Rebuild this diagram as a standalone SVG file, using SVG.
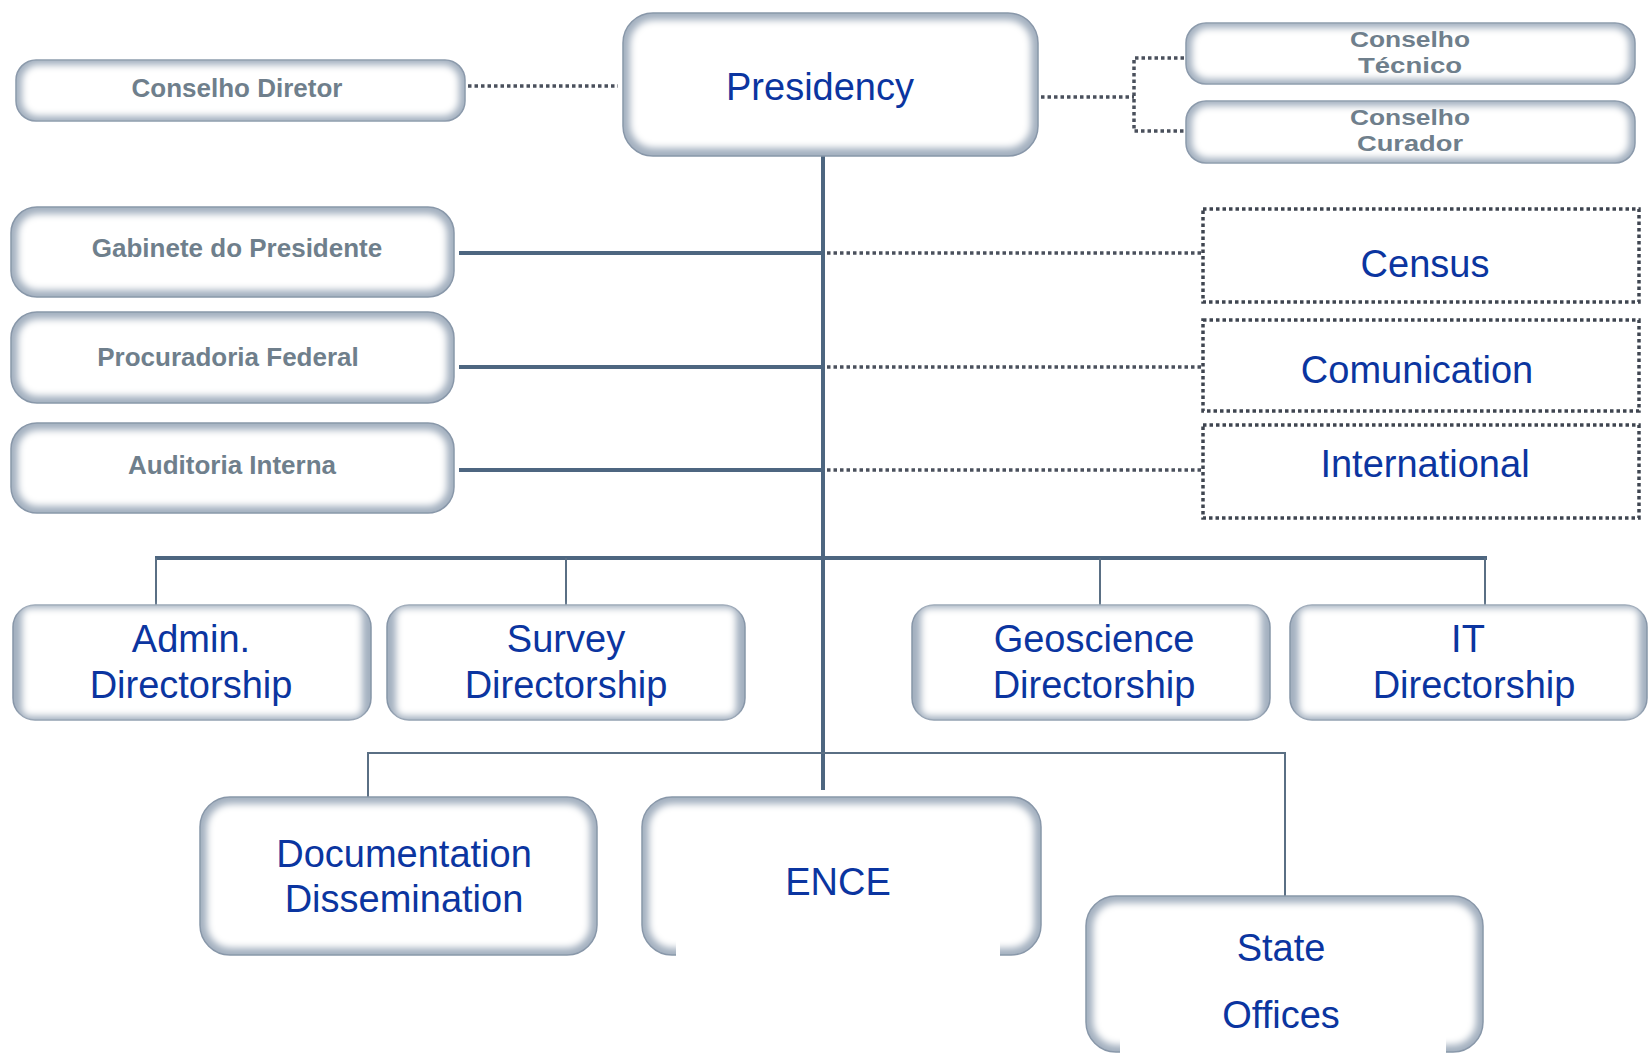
<svg xmlns="http://www.w3.org/2000/svg" width="1649" height="1054" viewBox="0 0 1649 1054">
<style>
.edge{fill:#a3b0bf;stroke:#8796a8;stroke-width:1.5}
.inner{fill:#ffffff;filter:url(#soft)}
.gray{font-family:"Liberation Sans",Arial,sans-serif;font-weight:bold;font-size:26px;fill:#6f7f8c;text-anchor:middle}
.gsm{font-size:22px}
.blue{font-family:"Liberation Sans",Arial,sans-serif;font-size:38px;fill:#0b35a0;text-anchor:middle}
.trunk{stroke:#4d6680;stroke-width:4;fill:none}
.thin{stroke:#5a6f84;stroke-width:2;fill:none}
.dot{stroke:#4a505c;stroke-width:3.5;stroke-dasharray:3.5 3;fill:none}
.dbox{fill:#ffffff;stroke:#3f4550;stroke-width:3.5;stroke-dasharray:3.5 3}
</style>
<defs>
<filter id="soft" x="-5%" y="-10%" width="110%" height="120%"><feGaussianBlur stdDeviation="3.5"/></filter>
</defs>
<rect width="1649" height="1054" fill="#ffffff"/>

<g id="connectors">
<line class="dot" x1="468" y1="86" x2="618" y2="86"/>
<polyline class="dot" points="1041,97 1134,97"/>
<polyline class="dot" points="1184,58 1134,58 1134,131 1184,131"/>
<line class="trunk" x1="823" y1="156" x2="823" y2="790"/>
<line class="trunk" x1="459" y1="253" x2="823" y2="253"/>
<line class="trunk" x1="459" y1="367" x2="823" y2="367"/>
<line class="trunk" x1="459" y1="470" x2="823" y2="470"/>
<line class="dot" x1="827" y1="253" x2="1202" y2="253"/>
<line class="dot" x1="827" y1="367" x2="1202" y2="367"/>
<line class="dot" x1="827" y1="470" x2="1202" y2="470"/>
<line class="trunk" x1="155" y1="558" x2="1487" y2="558"/>
<line class="thin" x1="156" y1="558" x2="156" y2="606"/>
<line class="thin" x1="566" y1="558" x2="566" y2="606"/>
<line class="thin" x1="1100" y1="558" x2="1100" y2="606"/>
<line class="thin" x1="1485" y1="558" x2="1485" y2="606"/>
<polyline class="thin" points="368,797 368,753 1285,753 1285,897"/>
</g>

<g id="conselho-diretor">
<rect class="edge" x="16" y="60" width="449" height="61" rx="20"/>
<rect class="inner" x="22" y="65" width="437" height="51" rx="16"/>
<text class="gray" x="237" y="97">Conselho Diretor</text>
</g>

<g id="presidency">
<rect class="edge" x="623" y="13" width="415" height="143" rx="30"/>
<rect class="inner" x="630" y="20" width="401" height="128" rx="24"/>
<text class="blue" x="820" y="100">Presidency</text>
</g>

<g id="conselho-tecnico">
<rect class="edge" x="1186" y="23" width="449" height="61" rx="20"/>
<rect class="inner" x="1192" y="28" width="437" height="51" rx="16"/>
<text class="gray gsm" x="1410" y="47" textLength="120" lengthAdjust="spacingAndGlyphs">Conselho</text>
<text class="gray gsm" x="1410" y="73" textLength="104" lengthAdjust="spacingAndGlyphs">Técnico</text>
</g>

<g id="conselho-curador">
<rect class="edge" x="1186" y="101" width="449" height="62" rx="20"/>
<rect class="inner" x="1192" y="106" width="437" height="52" rx="16"/>
<text class="gray gsm" x="1410" y="125" textLength="120" lengthAdjust="spacingAndGlyphs">Conselho</text>
<text class="gray gsm" x="1410" y="151" textLength="106" lengthAdjust="spacingAndGlyphs">Curador</text>
</g>

<g id="gabinete">
<rect class="edge" x="11" y="207" width="443" height="90" rx="26"/>
<rect class="inner" x="18" y="214" width="429" height="76" rx="20"/>
<text class="gray" x="237" y="257">Gabinete do Presidente</text>
</g>

<g id="procuradoria">
<rect class="edge" x="11" y="312" width="443" height="91" rx="26"/>
<rect class="inner" x="18" y="319" width="429" height="77" rx="20"/>
<text class="gray" x="228" y="366">Procuradoria Federal</text>
</g>

<g id="auditoria">
<rect class="edge" x="11" y="423" width="443" height="90" rx="26"/>
<rect class="inner" x="18" y="430" width="429" height="76" rx="20"/>
<text class="gray" x="232" y="474">Auditoria Interna</text>
</g>

<g id="census">
<rect class="dbox" x="1203" y="209" width="436" height="93"/>
<text class="blue" x="1425" y="277">Census</text>
</g>

<g id="comunication">
<rect class="dbox" x="1203" y="320" width="436" height="91"/>
<text class="blue" x="1417" y="383">Comunication</text>
</g>

<g id="international">
<rect class="dbox" x="1203" y="425" width="436" height="93"/>
<text class="blue" x="1425" y="477">International</text>
</g>

<g id="admin">
<rect class="edge" x="13" y="605" width="358" height="115" rx="22"/>
<rect class="inner" x="22" y="608" width="340" height="108" rx="8"/>
<text class="blue" x="191" y="652">Admin.</text>
<text class="blue" x="191" y="698">Directorship</text>
</g>

<g id="survey">
<rect class="edge" x="387" y="605" width="358" height="115" rx="22"/>
<rect class="inner" x="396" y="608" width="340" height="108" rx="8"/>
<text class="blue" x="566" y="652">Survey</text>
<text class="blue" x="566" y="698">Directorship</text>
</g>

<g id="geoscience">
<rect class="edge" x="912" y="605" width="358" height="115" rx="22"/>
<rect class="inner" x="921" y="608" width="340" height="108" rx="8"/>
<text class="blue" x="1094" y="652">Geoscience</text>
<text class="blue" x="1094" y="698">Directorship</text>
</g>

<g id="it">
<rect class="edge" x="1290" y="605" width="357" height="115" rx="22"/>
<rect class="inner" x="1299" y="608" width="340" height="108" rx="8"/>
<text class="blue" x="1468" y="652">IT</text>
<text class="blue" x="1474" y="698">Directorship</text>
</g>

<g id="documentation">
<rect class="edge" x="200" y="797" width="397" height="158" rx="30"/>
<rect class="inner" x="207" y="804" width="383" height="144" rx="24"/>
<text class="blue" x="404" y="867">Documentation</text>
<text class="blue" x="404" y="912">Dissemination</text>
</g>

<g id="ence">
<rect class="edge" x="642" y="797" width="399" height="158" rx="30"/>
<rect class="inner" x="649" y="804" width="385" height="144" rx="24"/>
<rect x="676" y="840" width="324" height="120" fill="#ffffff"/>
<text class="blue" x="838" y="895">ENCE</text>
</g>

<g id="state-offices">
<rect class="edge" x="1086" y="896" width="397" height="156" rx="30"/>
<rect class="inner" x="1093" y="903" width="383" height="142" rx="24"/>
<rect x="1120" y="930" width="326" height="124" fill="#ffffff"/>
<text class="blue" x="1281" y="961">State</text>
<text class="blue" x="1281" y="1028">Offices</text>
</g>
</svg>
